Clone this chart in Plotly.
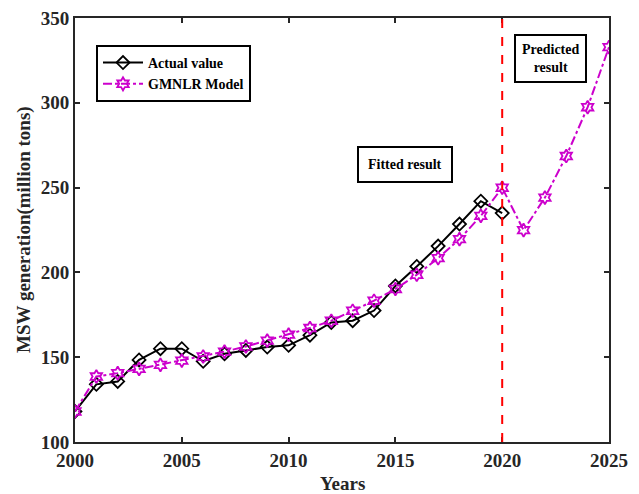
import plotly.graph_objects as go

years_actual = list(range(2000, 2021))
actual_value = [118, 134, 135.7, 148.4, 155, 155, 147.6, 152, 154, 156, 157,
                163, 170.5, 171.5, 177.5, 192, 203.5, 215.5, 228.5, 242, 235]
years_model = list(range(2000, 2026))
gmnlr_model = [118, 138.6, 140.6, 143.1, 145.5, 148, 150.4, 153.3, 156.3, 159.8, 163.3,
               167.2, 171.5, 177.4, 183.3, 190.2, 198.6, 208.4, 219.6, 233.3, 249.9,
               224.9, 244.1, 268.6, 297.4, 332.8]
split_year = 2020
x_ticks = [2000, 2005, 2010, 2015, 2020, 2025]
y_ticks = [100, 150, 200, 250, 300, 350]

FONT = "Liberation Serif"
MAG = "rgb(204,0,204)"
AX = "#262626"

# page has an 8px body margin; figure is sized/positioned to compensate
W, H = 631, 486
ML, MT, PW, PH = 67, 10, 534, 424

fig = go.Figure()
fig.add_trace(go.Scatter(
    x=years_actual, y=actual_value, name="Actual value", mode="lines+markers",
    line=dict(color="black", width=2),
    marker=dict(symbol="diamond-open", size=10, color="black", line=dict(width=1.8)),
))
fig.add_trace(go.Scatter(
    x=years_model, y=gmnlr_model, name="GMNLR Model", mode="lines+markers",
    line=dict(color=MAG, width=2, dash="dashdot"),
    marker=dict(symbol="hexagram-open", size=10, color=MAG, line=dict(width=1.8)),
))

fig.add_shape(type="line", x0=split_year, x1=split_year, xref="x", yref="paper",
              y0=0, y1=1, line=dict(color="red", width=2, dash="dash"))

fig.add_annotation(x=2015.43, y=263.6, xref="x", yref="y", text="Fitted result",
                   showarrow=False, font=dict(family=FONT, size=14, color="black", weight="bold"),
                   bordercolor="black", borderwidth=2, borderpad=9, bgcolor="white")
fig.add_annotation(x=2022.24, y=325.9, xref="x", yref="y", text="Predicted<br>result",
                   showarrow=False, font=dict(family=FONT, size=14, color="black", weight="bold"),
                   bordercolor="black", borderwidth=2, borderpad=6, bgcolor="white")

# y-axis title (page px x=24, centred on plot)
fig.add_annotation(x=(24 - 8 - ML) / PW, y=0.5, xref="paper", yref="paper",
                   text="MSW generation(million tons)", showarrow=False, textangle=-90,
                   xanchor="center", yanchor="middle",
                   font=dict(family=FONT, size=19, color=AX, weight="bold"))
# x-axis title (page px y=483)
fig.add_annotation(x=0.5, y=-(483 - 8 - MT - PH) / PH, xref="paper", yref="paper",
                   text="Years", showarrow=False, xanchor="center", yanchor="middle",
                   font=dict(family=FONT, size=19, color=AX, weight="bold"))

fig.update_layout(
    width=W, height=H,
    margin=dict(l=ML, r=W - ML - PW, t=MT, b=H - MT - PH, autoexpand=False),
    paper_bgcolor="white", plot_bgcolor="white",
    font=dict(family=FONT, color=AX),
    showlegend=True,
    legend=dict(x=(96 - 8 - ML) / PW, y=1 - (45 - 8 - MT) / PH, xanchor="left", yanchor="top",
                bordercolor="black", borderwidth=2, bgcolor="white",
                font=dict(family=FONT, size=14, color="black", weight="bold"),
                tracegroupgap=0, itemwidth=40),
    xaxis=dict(range=[2000, 2025], tickvals=x_ticks, ticks="inside", ticklen=5,
               showline=True, linecolor=AX, linewidth=2, mirror="ticks",
               tickcolor=AX, tickwidth=1.5, showgrid=False, zeroline=False,
               ticklabeloverflow="allow",
               tickfont=dict(family=FONT, size=19, color=AX, weight="bold")),
    yaxis=dict(range=[100, 350], tickvals=y_ticks, ticks="inside", ticklen=5,
               showline=True, linecolor=AX, linewidth=2, mirror="ticks",
               tickcolor=AX, tickwidth=1.5, showgrid=False, zeroline=False,
               ticklabeloverflow="allow",
               tickfont=dict(family=FONT, size=19, color=AX, weight="bold")),
)

fig.write_html("out.html")
